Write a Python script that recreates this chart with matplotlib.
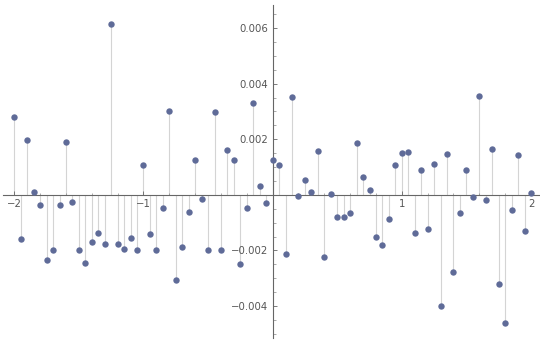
import numpy as np
import matplotlib
matplotlib.use("Agg")
import matplotlib.pyplot as plt
from matplotlib.ticker import FixedLocator

# sample positions: 81 evenly spaced points on [-2, 2]
x = np.linspace(-2, 2, 81)
# values (units of 1e-3)
y_milli = [
    2.79, -1.57, 1.98, 0.12, -0.35, -2.36, -1.97, -0.37, 1.92, -0.24,
    -1.97, -2.44, -1.70, -1.37, -1.78, 6.15, -1.78, -1.93, -1.54, -1.97,
    1.08, -1.40, -1.97, -0.49, 3.01, -3.07, -1.87, -0.61, 1.25, -0.16,
    -1.97, 2.98, -2.00, 1.62, 1.25, -2.47, -0.49, 3.31, 0.32, -0.28,
    1.25, 1.08, -2.14, 3.51, -0.05, 0.52, 0.12, 1.58, -2.23, 0.04,
    -0.80, -0.78, -0.64, 1.85, 0.65, 0.19, -1.51, -1.80, -0.88, 1.06,
    1.51, 1.55, -1.37, 0.91, -1.21, 1.12, -4.00, 1.48, -2.77, -0.65,
    0.91, -0.07, 3.54, -0.18, 1.64, -3.20, -4.60, -0.54, 1.45, -1.31,
    0.05,
]
y = np.array(y_milli) * 1e-3

x_ticks = [-2, -1, 1, 2]
x_labels = ["\u22122", "\u22121", "1", "2"]
y_ticks = [-0.004, -0.002, 0.002, 0.004, 0.006]
y_labels = ["\u22120.004", "\u22120.002", "0.002", "0.004", "0.006"]

fig = plt.figure(figsize=(5.4, 3.5), dpi=100)
ax = fig.add_axes([0, 0, 1, 1])

ax.vlines(x, 0, y, colors="#d4d4d4", lw=0.8, zorder=1)
ax.plot(x, y, "o", ms=4.6, color="#5f6b98", mec="none", zorder=3)

ax.set_xlim(-2.111, 2.07)
ax.set_ylim(-0.00558, 0.00701)

for s in ("top", "right"):
    ax.spines[s].set_visible(False)
ax.spines["left"].set_position(("data", 0))
ax.spines["bottom"].set_position(("data", 0))
ax.spines["left"].set_bounds(-0.00514, 0.00683)
ax.spines["bottom"].set_bounds(-2.09, 2.07)
for s in ("left", "bottom"):
    ax.spines[s].set_color("#666666")
    ax.spines[s].set_linewidth(0.8)
    ax.spines[s].set_zorder(2)

ax.set_xticks(x_ticks)
ax.set_xticklabels(x_labels)
ax.set_yticks(y_ticks)
ax.set_yticklabels(y_labels)
ax.xaxis.set_minor_locator(FixedLocator(np.arange(-2.0, 2.01, 0.2)))
ax.yaxis.set_minor_locator(FixedLocator(np.arange(-0.005, 0.00651, 0.0005)))
ax.tick_params(which="major", direction="in", length=3.2, width=0.6,
               color="#666666", labelsize=7.3, labelcolor="#555555", pad=3)
ax.tick_params(which="minor", direction="in", length=1.8, width=0.5,
               color="#888888")
ax.patch.set_alpha(0)

fig.savefig("out.png", dpi=100)
